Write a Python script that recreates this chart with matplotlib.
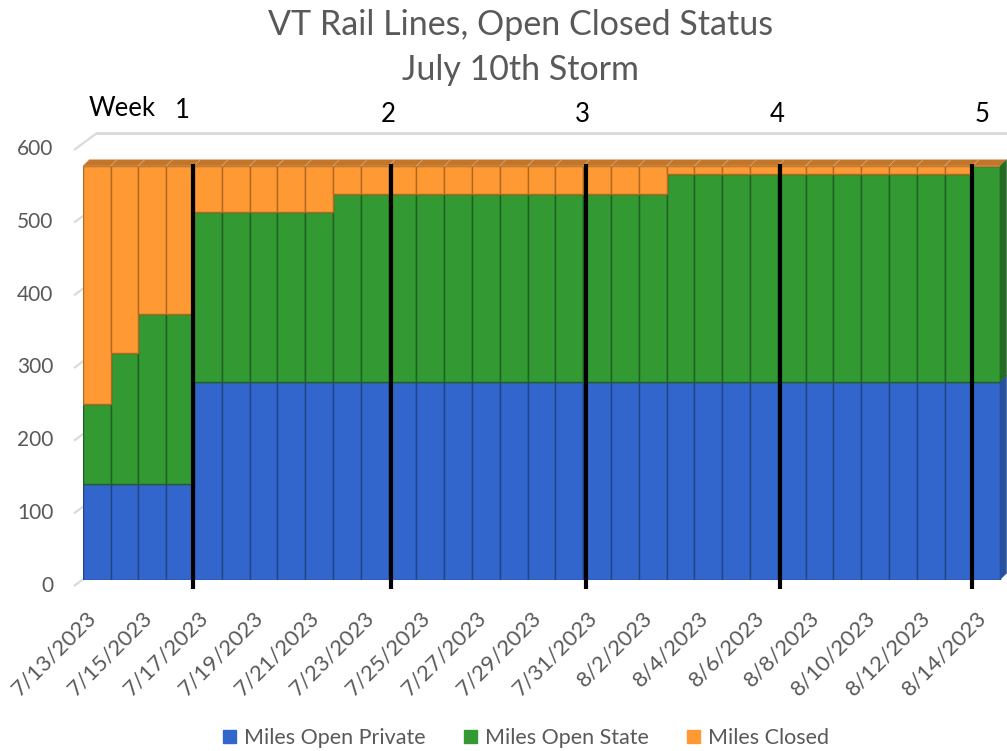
import matplotlib
matplotlib.use("Agg")
import matplotlib.pyplot as plt
from matplotlib.patches import Polygon, Patch
from matplotlib.transforms import ScaledTranslation

plt.rcParams['font.family'] = ['Lato', 'DejaVu Sans']

dates = ["7/13/2023", "7/14/2023", "7/15/2023", "7/16/2023", "7/17/2023", "7/18/2023",
         "7/19/2023", "7/20/2023", "7/21/2023", "7/22/2023", "7/23/2023", "7/24/2023",
         "7/25/2023", "7/26/2023", "7/27/2023", "7/28/2023", "7/29/2023", "7/30/2023",
         "7/31/2023", "8/1/2023", "8/2/2023", "8/3/2023", "8/4/2023", "8/5/2023",
         "8/6/2023", "8/7/2023", "8/8/2023", "8/9/2023", "8/10/2023", "8/11/2023",
         "8/12/2023", "8/13/2023", "8/14/2023"]
miles_open_private = [132, 132, 132, 132, 272, 272, 272, 272, 272, 272, 272, 272,
                      272, 272, 272, 272, 272, 272, 272, 272, 272, 272, 272, 272,
                      272, 272, 272, 272, 272, 272, 272, 272, 272]
miles_open_state = [110, 179, 233, 233, 234, 234, 234, 234, 234, 259, 259, 259,
                    259, 259, 259, 259, 259, 259, 259, 259, 259, 286, 286, 286,
                    286, 286, 286, 286, 286, 286, 286, 286, 297]
miles_closed = [327, 258, 204, 204, 63, 63, 63, 63, 63, 38, 38, 38,
                38, 38, 38, 38, 38, 38, 38, 38, 38, 11, 11, 11,
                11, 11, 11, 11, 11, 11, 11, 11, 0]
week_labels = ["1", "2", "3", "4", "5"]
week_line_x = [3.47, 10.6, 17.6, 24.58, 31.48]
y_ticks = [0, 100, 200, 300, 400, 500, 600]

W, H = 1007, 751
fig = plt.figure(figsize=(W / 100, H / 100), dpi=100)

# pixel geometry
x0px, barpx = 82.7, 27.8
y0px, ypx = 579.5, 0.7267
top_px = 100
ax = fig.add_axes([x0px / W, (H - y0px) / H, (W - x0px) / W, (y0px - top_px) / H])
n = len(dates)
ax.set_xlim(-0.5, -0.5 + (W - x0px) / barpx)
ax.set_ylim(0, (y0px - top_px) / ypx)
for s in ax.spines.values():
    s.set_visible(False)

c_blue, c_green, c_orange = "#3366CC", "#339933", "#FF9933"
e_blue, e_green, e_orange = "#1F4488", "#1F6024", "#B06A20"
top_col = "#C47628"
grid_col = "#D9D9D9"

xs = list(range(n))
bottom2 = [p + s for p, s in zip(miles_open_private, miles_open_state)]
totals = [b + c for b, c in zip(bottom2, miles_closed)]

# back-wall depth ticks
fdx, fdy = (74 - x0px) / barpx, -6.5 / ypx
bdx, bdy = (97 - x0px) / barpx, 10.5 / ypx
for v in y_ticks:
    ax.plot([-0.5 + fdx, -0.5 + bdx], [v + fdy, v + bdy], color=grid_col, lw=1.5,
            zorder=0, clip_on=False, solid_capstyle='butt')
ax.plot([-0.5 + bdx, ax.get_xlim()[1]], [600 + bdy, 600 + bdy], color=grid_col, lw=2,
        zorder=0, clip_on=False)

ax.bar(xs, miles_open_private, width=1.0, color=c_blue, edgecolor=e_blue, lw=1.0,
       label="Miles Open Private", zorder=2)
ax.bar(xs, miles_open_state, width=1.0, bottom=miles_open_private, color=c_green,
       edgecolor=e_green, lw=1.0, label="Miles Open State", zorder=2)
ax.bar(xs, miles_closed, width=1.0, bottom=bottom2, color=c_orange,
       edgecolor=e_orange, lw=1.0, label="Miles Closed", zorder=2)

# 3D top faces
dx, dy = 6.5 / barpx, 6.3 / ypx
for i, t in zip(xs, totals):
    ax.add_patch(Polygon([(i - 0.5, t), (i + 0.5, t), (i + 0.5 + dx, t + dy), (i - 0.5 + dx, t + dy)],
                         closed=True, facecolor=top_col, edgecolor="#D8A77A", lw=0.4,
                         zorder=3, clip_on=False))
# side face of the last bar
i = xs[-1]
segs = [(0, miles_open_private[-1], "#27509F"),
        (miles_open_private[-1], bottom2[-1], "#256B25"),
        (bottom2[-1], totals[-1], "#C47628")]
for lo, hi, col in segs:
    if hi > lo:
        ax.add_patch(Polygon([(i + 0.5, lo), (i + 0.5, hi), (i + 0.5 + dx, hi + dy), (i + 0.5 + dx, lo + dy)],
                             closed=True, facecolor=col, edgecolor=col, lw=0.3, zorder=3, clip_on=False))

# week markers
for wx in week_line_x:
    ax.plot([wx, wx], [-13, 572], color="black", lw=3, zorder=5, clip_on=False,
            solid_capstyle='butt')

# axes ticks
ax.set_yticks(y_ticks)
ax.tick_params(axis='y', length=0, pad=21, labelsize=15, labelcolor="#595959")
for lab in ax.get_yticklabels():
    lab.set_transform(lab.get_transform() + ScaledTranslation(0, -0.04, fig.dpi_scale_trans))
ax.set_xticks(xs[::2])
ax.set_xticklabels(dates[::2], rotation=45, ha='right', va='center', rotation_mode='anchor')
ax.tick_params(axis='x', length=0, pad=25, labelsize=16, labelcolor="#595959")
for lab in ax.get_xticklabels():
    lab.set_transform(lab.get_transform() + ScaledTranslation(-0.03, 0, fig.dpi_scale_trans))

# titles and annotations (figure pixel coords)
def ftext(x, y, s, **kw):
    fig.text(x / W, 1 - y / H, s, **kw)

ftext(521, 25, "VT Rail Lines, Open Closed Status", ha='center', va='center', fontsize=24.5, color="#595959")
ftext(520, 70, "July 10th Storm", ha='center', va='center', fontsize=24.5, color="#595959")
ftext(122, 108, "Week", ha='center', va='center', fontsize=18.5, color="black")
week_pos = [(182, 110), (388, 115), (582, 115), (777, 115), (982, 115)]
for lab, (px, py) in zip(week_labels, week_pos):
    ftext(px, py, lab, ha='center', va='center', fontsize=18.5, color="black")

handles = [Patch(color=c_blue, label="Miles Open Private"),
           Patch(color=c_green, label="Miles Open State"),
           Patch(color=c_orange, label="Miles Closed")]
leg = fig.legend(handles=handles, loc='center', bbox_to_anchor=(526 / W, 1 - 738 / H), ncol=3,
                 frameon=False, fontsize=15.5, handlelength=0.6, handleheight=0.6,
                 handletextpad=0.35, columnspacing=1.8, labelcolor="#595959")

fig.savefig("out.png", dpi=100)
